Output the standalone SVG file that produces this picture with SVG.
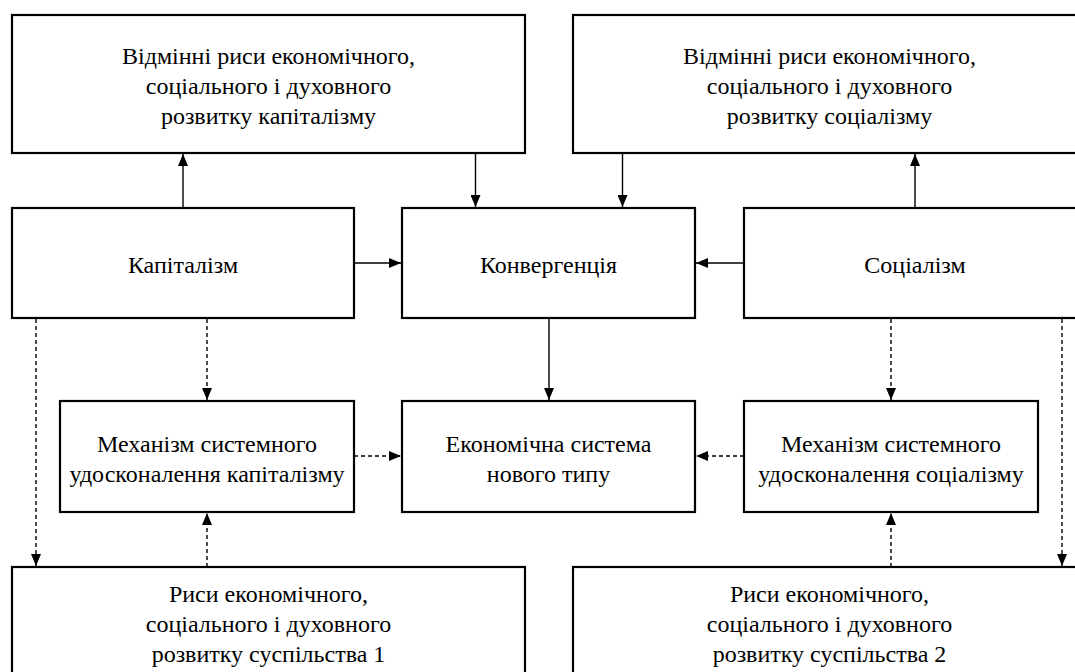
<svg xmlns="http://www.w3.org/2000/svg" width="1075" height="672" viewBox="0 0 1075 672">
<defs>
<style>
.box{fill:#fff;stroke:#000;stroke-width:2.2}
.t{font-family:"Liberation Serif","Times New Roman",serif;font-size:24px;text-anchor:middle;fill:#000}
.c{stroke:#000;stroke-width:1.4;fill:none;marker-end:url(#ah)}
.d{stroke:#000;stroke-width:1.4;fill:none;stroke-dasharray:4 3;marker-end:url(#ah)}
</style>
<marker id="ah" markerUnits="userSpaceOnUse" markerWidth="12" markerHeight="10" refX="12" refY="5" orient="auto">
<path d="M0,0 L12,5 L0,10 z" fill="#000"/>
</marker>
</defs>
<rect width="1075" height="672" fill="#fff"/>
<g id="connectors">
<line class="c" x1="183" y1="208" x2="183" y2="154"/>
<line class="c" x1="475.5" y1="153" x2="475.5" y2="207"/>
<line class="c" x1="622.5" y1="153" x2="622.5" y2="207"/>
<line class="c" x1="915" y1="208" x2="915" y2="154"/>
<line class="c" x1="354" y1="263" x2="401" y2="263"/>
<line class="c" x1="744" y1="263" x2="696" y2="263"/>
<line class="c" x1="549" y1="318" x2="549" y2="400"/>
<line class="d" x1="207" y1="319" x2="207" y2="400"/>
<line class="d" x1="36" y1="319" x2="36" y2="566"/>
<line class="d" x1="207" y1="567" x2="207" y2="513"/>
<line class="d" x1="354" y1="456" x2="401" y2="456"/>
<line class="d" x1="891" y1="319" x2="891" y2="400"/>
<line class="d" x1="1062" y1="319" x2="1062" y2="566"/>
<line class="d" x1="891" y1="567" x2="891" y2="513"/>
<line class="d" x1="744" y1="456" x2="696" y2="456"/>
</g>
<g id="features-capitalism">
<rect class="box" x="12" y="15" width="513" height="138"/>
<text class="t" x="268.5" y="64">Відмінні риси економічного,</text>
<text class="t" x="268.5" y="94">соціального і духовного</text>
<text class="t" x="268.5" y="124">розвитку капіталізму</text>
</g>
<g id="features-socialism">
<rect class="box" x="573" y="15" width="513" height="138"/>
<text class="t" x="829.5" y="64">Відмінні риси економічного,</text>
<text class="t" x="829.5" y="94">соціального і духовного</text>
<text class="t" x="829.5" y="124">розвитку соціалізму</text>
</g>
<g id="capitalism">
<rect class="box" x="12" y="208" width="342" height="110"/>
<text class="t" x="183" y="273">Капіталізм</text>
</g>
<g id="convergence">
<rect class="box" x="402" y="208" width="293" height="110"/>
<text class="t" x="548.5" y="273">Конвергенція</text>
</g>
<g id="socialism">
<rect class="box" x="744" y="208" width="342" height="110"/>
<text class="t" x="915" y="273">Соціалізм</text>
</g>
<g id="mechanism-capitalism">
<rect class="box" x="60" y="401" width="294" height="111"/>
<text class="t" x="207" y="451.5">Механізм системного</text>
<text class="t" x="207" y="481.5">удосконалення капіталізму</text>
</g>
<g id="new-economic-system">
<rect class="box" x="402" y="401" width="293" height="111"/>
<text class="t" x="548.5" y="451.5">Економічна система</text>
<text class="t" x="548.5" y="481.5">нового типу</text>
</g>
<g id="mechanism-socialism">
<rect class="box" x="744" y="401" width="294" height="111"/>
<text class="t" x="891" y="451.5">Механізм системного</text>
<text class="t" x="891" y="481.5">удосконалення соціалізму</text>
</g>
<g id="society-1">
<rect class="box" x="12" y="567" width="513" height="112"/>
<text class="t" x="268.5" y="602">Риси економічного,</text>
<text class="t" x="268.5" y="632">соціального і духовного</text>
<text class="t" x="268.5" y="662">розвитку суспільства 1</text>
</g>
<g id="society-2">
<rect class="box" x="573" y="567" width="513" height="112"/>
<text class="t" x="829.5" y="602">Риси економічного,</text>
<text class="t" x="829.5" y="632">соціального і духовного</text>
<text class="t" x="829.5" y="662">розвитку суспільства 2</text>
</g>
</svg>
